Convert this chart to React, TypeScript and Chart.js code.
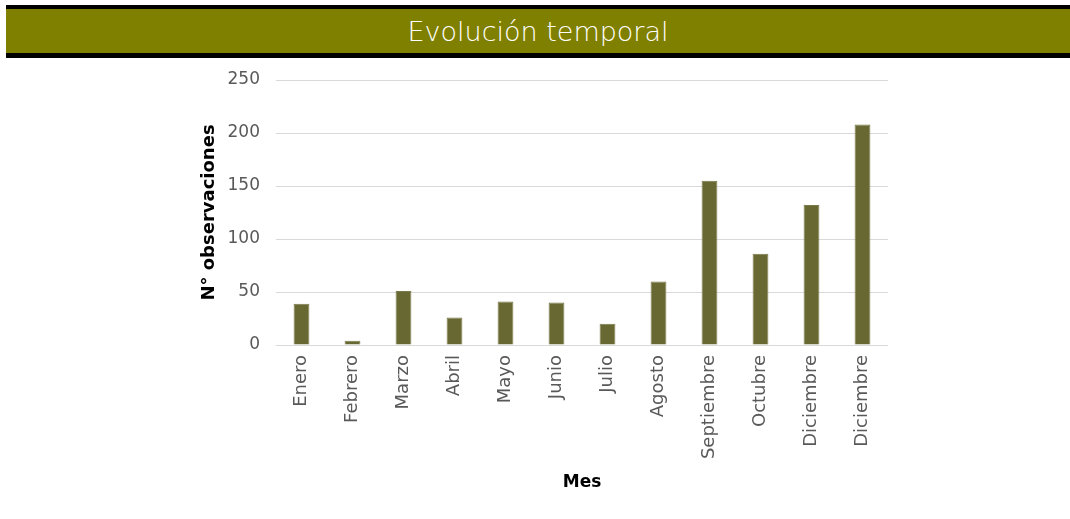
import { useEffect, useRef } from "react";
import { Chart, registerables } from "chart.js";

Chart.register(...registerables);

const categories = [
  "Enero",
  "Febrero",
  "Marzo",
  "Abril",
  "Mayo",
  "Junio",
  "Julio",
  "Agosto",
  "Septiembre",
  "Octubre",
  "Diciembre",
  "Diciembre",
];
const observaciones = [39, 4, 51, 26, 41, 40, 20, 60, 155, 86, 132, 208];
const yMin = 0;
const yMax = 250;
const yStep = 50;

const chartTitle = "Evolución temporal";
const yTitle = "N° observaciones";
const xTitle = "Mes";

export default function App() {
  const ref = useRef<HTMLCanvasElement>(null);

  useEffect(() => {
    if (!ref.current) return;
    const yTickFont = { family: "'DejaVu Sans', sans-serif", size: 17 };
    const xTickFont = { family: "'DejaVu Sans', sans-serif", size: 18 };
    const yTitleFont = { family: "'DejaVu Sans', sans-serif", size: 18, weight: "bold" as const, lineHeight: 1.2 };
    const xTitleFont = { family: "'DejaVu Sans', sans-serif", size: 17, weight: "bold" as const, lineHeight: 1.2 };
    const chart = new Chart(ref.current, {
      type: "bar",
      data: {
        labels: categories,
        datasets: [
          {
            data: observaciones,
            backgroundColor: "#686833",
            borderColor: "#7a7a4a",
            borderWidth: 1,
            barPercentage: 0.31,
            categoryPercentage: 1,
          },
        ],
      },
      options: {
        responsive: false,
        maintainAspectRatio: false,
        animation: false,
        layout: { padding: { left: 199, right: 182, top: 80, bottom: 0 } },
        plugins: {
          legend: { display: false },
          tooltip: { enabled: false },
        },
        scales: {
          x: {
            grid: { display: false, drawTicks: false },
            border: { display: false },
            ticks: {
              minRotation: 90,
              maxRotation: 90,
              autoSkip: false,
              padding: 10,
              color: "#595959",
              font: xTickFont,
            },
            title: {
              display: true,
              text: xTitle,
              color: "#000000",
              font: xTitleFont,
              padding: { top: 0, bottom: 26 },
            },
            afterFit: (scale: any) => {
              scale.height = 519 - 345;
            },
          },
          y: {
            min: yMin,
            max: yMax,
            grid: { color: "#d9d9d9", drawTicks: false, lineWidth: 1 },
            border: { display: false },
            ticks: {
              stepSize: yStep,
              padding: 16,
              color: "#595959",
              font: yTickFont,
            },
            title: {
              display: true,
              text: yTitle,
              color: "#000000",
              font: yTitleFont,
              padding: { top: 0, bottom: 0 },
            },
            afterFit: (scale: any) => {
              scale.width = 276 - 199;
            },
          },
        },
      },
    });
    return () => chart.destroy();
  }, []);

  return (
    <div style={{ position: "absolute", left: 0, top: 0, width: 1070, height: 519, background: "#ffffff", overflow: "hidden" }}>
      <canvas ref={ref} width={1070} height={519} style={{ position: "absolute", left: 0, top: 0, width: 1070, height: 519 }} />
      <div
        style={{
          position: "absolute",
          left: 6,
          top: 5,
          width: 1070,
          height: 44,
          background: "#808000",
          borderTop: "4px solid #000000",
          borderBottom: "5px solid #000000",
          display: "flex",
          alignItems: "center",
          justifyContent: "center",
          color: "#ffffff",
          fontFamily: "'DejaVu Sans', sans-serif",
          fontWeight: 300,
          fontSize: 27,
        }}
      >
        <span style={{ marginLeft: -6 }}>{chartTitle}</span>
      </div>
    </div>
  );
}
